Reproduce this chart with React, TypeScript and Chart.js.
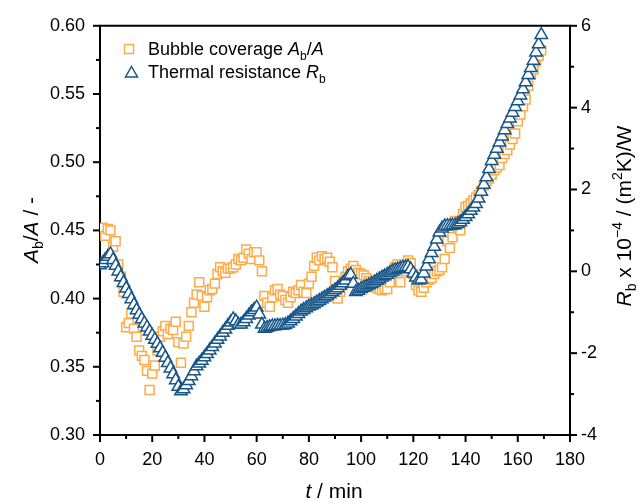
import React, { useEffect, useRef } from "react";
import { Chart, registerables } from "chart.js";

Chart.register(...registerables);

// ---- data ----
const TIME_MIN = [
  0, 1, 2, 3, 4, 5, 6, 7, 8, 9,
  10, 11, 12, 13, 14, 15, 16, 17, 18, 19,
  20, 21, 22, 23, 24, 25, 26, 27, 28, 29,
  30, 31, 32, 33, 34, 35, 36, 37, 38, 39,
  40, 41, 42, 43, 44, 45, 46, 47, 48, 49,
  50, 51, 52, 53, 54, 55, 56, 57, 58, 59,
  60, 61, 62, 63, 64, 65, 66, 67, 68, 69,
  70, 71, 72, 73, 74, 75, 76, 77, 78, 79,
  80, 81, 82, 83, 84, 85, 86, 87, 88, 89,
  90, 91, 92, 93, 94, 95, 96, 97, 98, 99,
  100, 101, 102, 103, 104, 105, 106, 107, 108, 109,
  110, 111, 112, 113, 114, 115, 116, 117, 118, 119,
  120, 121, 122, 123, 124, 125, 126, 127, 128, 129,
  130, 131, 132, 133, 134, 135, 136, 137, 138, 139,
  140, 141, 142, 143, 144, 145, 146, 147, 148, 149,
  150, 151, 152, 153, 154, 155, 156, 157, 158, 159,
  160, 161, 162, 163, 164, 165, 166, 167, 168, 169,
];

const BUBBLE_COVERAGE = [
  0.448, 0.452, 0.446, 0.451, 0.450, 0.438, 0.442, 0.425, 0.416, 0.405,
  0.379, 0.382, 0.389, 0.378, 0.372, 0.362, 0.358, 0.355, 0.347, 0.333,
  0.345, 0.351, 0.362, 0.372, 0.376, 0.380, 0.374, 0.378, 0.377, 0.383,
  0.368, 0.353, 0.367, 0.372, 0.380, 0.390, 0.397, 0.403, 0.412, 0.402,
  0.394, 0.401, 0.406, 0.407, 0.411, 0.418, 0.423, 0.420, 0.419, 0.422,
  0.422, 0.423, 0.425, 0.429, 0.428, 0.430, 0.436, 0.433, 0.429, 0.434,
  0.434, 0.428, 0.420, 0.402, 0.397, 0.394, 0.401, 0.406, 0.407, 0.403,
  0.402, 0.399, 0.397, 0.401, 0.405, 0.404, 0.406, 0.410, 0.405, 0.404,
  0.411, 0.416, 0.424, 0.430, 0.428, 0.431, 0.429, 0.430, 0.427, 0.423,
  0.413, 0.400, 0.405, 0.411, 0.416, 0.420, 0.422, 0.424, 0.421, 0.419,
  0.418, 0.417, 0.415, 0.413, 0.411, 0.409, 0.408, 0.407, 0.406, 0.407,
  0.407, 0.412, 0.418, 0.423, 0.425, 0.412, 0.420, 0.424, 0.428, 0.426,
  0.418, 0.410, 0.406, 0.405, 0.408, 0.412, 0.414, 0.415, 0.418, 0.420,
  0.421, 0.423, 0.429, 0.442, 0.437, 0.445, 0.457, 0.452, 0.450, 0.462,
  0.467, 0.468, 0.470, 0.472, 0.474, 0.476, 0.479, 0.483, 0.486, 0.488,
  0.491, 0.494, 0.496, 0.498, 0.503, 0.506, 0.509, 0.513, 0.517, 0.521,
  0.530, 0.535, 0.541, 0.546, 0.556, 0.564, 0.568, 0.574, 0.578, 0.582,
];

const THERMAL_RESISTANCE = [
  0.15, 0.2, 0.28, 0.36, 0.42, 0.28, 0.14, 0.0, -0.14, -0.28,
  -0.42, -0.55, -0.68, -0.82, -0.95, -1.06, -1.17, -1.27, -1.37, -1.47,
  -1.57, -1.67, -1.77, -1.88, -1.99, -2.11, -2.24, -2.37, -2.51, -2.66,
  -2.82, -2.93, -2.88, -2.78, -2.68, -2.56, -2.44, -2.32, -2.25, -2.18,
  -2.1, -2.02, -1.93, -1.85, -1.76, -1.67, -1.59, -1.5, -1.42, -1.33,
  -1.25, -1.17, -1.22, -1.3, -1.3, -1.24, -1.16, -1.08, -1.0, -0.94,
  -0.88, -1.05, -1.3, -1.4, -1.38, -1.36, -1.34, -1.34, -1.33, -1.33,
  -1.32, -1.31, -1.27, -1.22, -1.16, -1.1, -1.04, -0.98, -0.94, -0.9,
  -0.86, -0.83, -0.8, -0.76, -0.72, -0.68, -0.64, -0.6, -0.56, -0.51,
  -0.46, -0.41, -0.35, -0.29, -0.22, -0.12, -0.08, -0.3, -0.5, -0.47,
  -0.43, -0.4, -0.37, -0.34, -0.31, -0.27, -0.23, -0.19, -0.15, -0.12,
  -0.08, -0.04, 0.0, 0.03, 0.05, 0.07, 0.09, 0.1, 0.11, 0.05,
  -0.05, -0.15, -0.22, -0.2, -0.05, 0.12, 0.3, 0.45, 0.6, 0.78,
  0.95, 1.05, 1.1, 1.11, 1.11, 1.12, 1.13, 1.16, 1.2, 1.26,
  1.33, 1.4, 1.48, 1.56, 1.65, 1.78, 1.95, 2.12, 2.3, 2.5,
  2.7, 2.85, 3.0, 3.15, 3.3, 3.45, 3.6, 3.74, 3.88, 4.02,
  4.16, 4.3, 4.45, 4.62, 4.8, 4.97, 5.15, 5.35, 5.55, 5.78,
];

const X_TICKS = [0, 20, 40, 60, 80, 100, 120, 140, 160, 180];
const LEFT_TICKS = [0.3, 0.35, 0.4, 0.45, 0.5, 0.55, 0.6];
const RIGHT_TICKS = [-4, -2, 0, 2, 4, 6];

// ---- styles ----
const FONT = "'Liberation Sans', Arial, Helvetica, sans-serif";
const FONT_SIZE = 18;
const TITLE_SIZE = 21;
const ORANGE = "#FDAA48";
const BLUE = "#175687";

type Seg = { t: string; i?: boolean; sub?: boolean; sup?: boolean };

function drawRich(
  ctx: CanvasRenderingContext2D,
  segs: Seg[],
  x: number,
  yCenter: number,
  size: number,
  align: "left" | "center"
) {
  const fontFor = (s: Seg) =>
    `${s.i ? "italic " : ""}${s.sub || s.sup ? Math.round(size * 0.66) : size}px ${FONT}`;
  let total = 0;
  const widths = segs.map((s) => {
    ctx.font = fontFor(s);
    const w = ctx.measureText(s.t).width;
    total += w;
    return w;
  });
  let cx = align === "center" ? x - total / 2 : x;
  const base = yCenter + size * 0.36;
  ctx.textAlign = "left";
  ctx.textBaseline = "alphabetic";
  segs.forEach((s, k) => {
    ctx.font = fontFor(s);
    const dy = s.sub ? size * 0.24 : s.sup ? -size * 0.42 : 0;
    ctx.fillText(s.t, cx, base + dy);
    cx += widths[k];
  });
}

function mids(arr: number[]) {
  const out: number[] = [];
  for (let k = 0; k < arr.length - 1; k++) out.push((arr[k] + arr[k + 1]) / 2);
  return out;
}

const decorPlugin = {
  id: "decor",
  afterDraw(chart: any) {
    const { ctx, chartArea: a, scales } = chart;
    const sx = scales.x;
    const sl = scales.y;
    const sr = scales.y2;
    ctx.save();
    ctx.strokeStyle = "#000";
    ctx.lineWidth = 2;
    ctx.lineCap = "butt";
    const line = (x1: number, y1: number, x2: number, y2: number) => {
      ctx.beginPath();
      ctx.moveTo(x1, y1);
      ctx.lineTo(x2, y2);
      ctx.stroke();
    };
    // top frame
    line(a.left - 1, a.top, a.right + 1, a.top);
    const MAJ = 7;
    const MIN = 4;
    X_TICKS.forEach((v) => {
      const p = sx.getPixelForValue(v);
      line(p, a.bottom, p, a.bottom + MAJ);
    });
    mids(X_TICKS).forEach((v) => {
      const p = sx.getPixelForValue(v);
      line(p, a.bottom, p, a.bottom + MIN);
    });
    LEFT_TICKS.forEach((v) => {
      const p = sl.getPixelForValue(v);
      line(a.left, p, a.left - MAJ, p);
    });
    mids(LEFT_TICKS).forEach((v) => {
      const p = sl.getPixelForValue(v);
      line(a.left, p, a.left - MIN, p);
    });
    RIGHT_TICKS.forEach((v) => {
      const p = sr.getPixelForValue(v);
      line(a.right, p, a.right + MAJ, p);
    });
    mids(RIGHT_TICKS).forEach((v) => {
      const p = sr.getPixelForValue(v);
      line(a.right, p, a.right + MIN, p);
    });

    // axis titles
    ctx.fillStyle = "#000";
    drawRich(ctx, [{ t: "t", i: true }, { t: " / min" }], 334, 490, TITLE_SIZE, "center");

    ctx.save();
    ctx.translate(30, 230);
    ctx.rotate(-Math.PI / 2);
    drawRich(
      ctx,
      [{ t: "A", i: true }, { t: "b", sub: true }, { t: "/" }, { t: "A", i: true }, { t: " / -" }],
      0,
      0,
      TITLE_SIZE,
      "center"
    );
    ctx.restore();

    ctx.save();
    ctx.translate(623, 216);
    ctx.rotate(-Math.PI / 2);
    drawRich(
      ctx,
      [
        { t: "R", i: true },
        { t: "b", sub: true },
        { t: " x 10" },
        { t: "\u22124", sup: true },
        { t: " / (m" },
        { t: "2", sup: true },
        { t: "K)/W" },
      ],
      0,
      0,
      TITLE_SIZE,
      "center"
    );
    ctx.restore();

    // legend
    ctx.lineWidth = 1.5;
    ctx.strokeStyle = ORANGE;
    ctx.strokeRect(129 - 4.5, 49 - 4.5, 9, 9);
    ctx.strokeStyle = BLUE;
    ctx.beginPath();
    ctx.moveTo(131.5, 66.5);
    ctx.lineTo(137.5, 77);
    ctx.lineTo(125.5, 77);
    ctx.closePath();
    ctx.stroke();
    ctx.fillStyle = "#000";
    drawRich(
      ctx,
      [{ t: "Bubble coverage " }, { t: "A", i: true }, { t: "b", sub: true }, { t: "/" }, { t: "A", i: true }],
      148,
      49,
      FONT_SIZE,
      "left"
    );
    drawRich(ctx, [{ t: "Thermal resistance " }, { t: "R", i: true }, { t: "b", sub: true }], 148, 72, FONT_SIZE, "left");
    ctx.restore();
  },
};

export default function App() {
  const ref = useRef<HTMLCanvasElement | null>(null);

  useEffect(() => {
    if (!ref.current) return;
    const tickFont = { family: FONT, size: FONT_SIZE };
    const chart = new Chart(ref.current, {
      type: "scatter",
      data: {
        datasets: [
          {
            label: "Thermal resistance",
            data: TIME_MIN.map((t, k) => ({ x: t, y: THERMAL_RESISTANCE[k] })),
            yAxisID: "y2",
            pointStyle: "triangle",
            pointRadius: 7.2,
            pointHoverRadius: 7.2,
            borderWidth: 1.5,
            borderColor: BLUE,
            backgroundColor: "#ffffff",
            order: 0,
          },
          {
            label: "Bubble coverage",
            data: TIME_MIN.map((t, k) => ({ x: t, y: BUBBLE_COVERAGE[k] })),
            yAxisID: "y",
            pointStyle: "rect",
            pointRadius: 6.3,
            pointHoverRadius: 6.3,
            borderWidth: 1.5,
            borderColor: ORANGE,
            backgroundColor: "#ffffff",
            order: 1,
          },
        ],
      },
      options: {
        responsive: false,
        animation: false,
        devicePixelRatio: 1,
        layout: { padding: { top: 24, left: 0, right: 0, bottom: 0 } },
        plugins: { legend: { display: false }, tooltip: { enabled: false } },
        events: [],
        scales: {
          x: {
            type: "linear",
            min: 0,
            max: 180,
            afterBuildTicks: (sc: any) => {
              sc.ticks = X_TICKS.map((v) => ({ value: v }));
            },
            afterFit: (sc: any) => {
              sc.height = 66;
            },
            ticks: { font: tickFont, color: "#000", padding: 14, maxRotation: 0, autoSkip: false },
            grid: { display: false, drawTicks: false },
            border: { display: true, color: "#000", width: 2 },
          },
          y: {
            type: "linear",
            position: "left",
            min: 0.3,
            max: 0.6,
            afterBuildTicks: (sc: any) => {
              sc.ticks = LEFT_TICKS.map((v) => ({ value: v }));
            },
            afterFit: (sc: any) => {
              sc.width = 100;
            },
            ticks: {
              font: tickFont,
              color: "#000",
              padding: 15,
              autoSkip: false,
              callback: (v: any) => Number(v).toFixed(2),
            },
            grid: { display: false, drawTicks: false },
            border: { display: true, color: "#000", width: 2 },
          },
          y2: {
            type: "linear",
            position: "right",
            min: -4,
            max: 6,
            afterBuildTicks: (sc: any) => {
              sc.ticks = RIGHT_TICKS.map((v) => ({ value: v }));
            },
            afterFit: (sc: any) => {
              sc.width = 72;
            },
            ticks: {
              font: tickFont,
              color: "#000",
              padding: 11,
              autoSkip: false,
              callback: (v: any) => String(v),
            },
            grid: { display: false, drawTicks: false },
            border: { display: true, color: "#000", width: 2 },
          },
        },
      },
      plugins: [decorPlugin],
    } as any);
    return () => chart.destroy();
  }, []);

  return (
    <div style={{ position: "absolute", left: 0, top: 0, width: 642, height: 501, background: "#fff" }}>
      <canvas ref={ref} width={642} height={501} style={{ display: "block" }} />
    </div>
  );
}
